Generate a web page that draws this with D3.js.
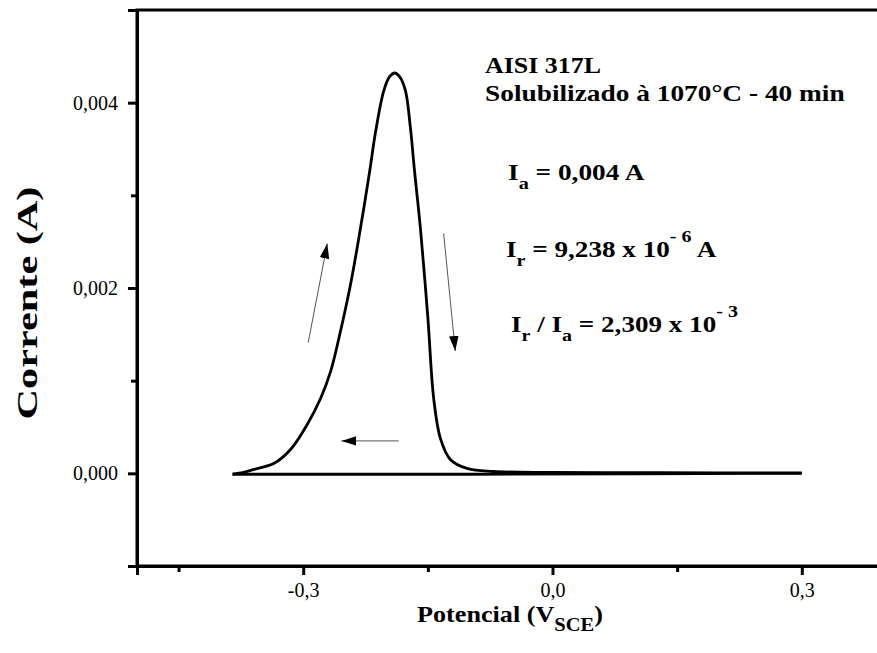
<!DOCTYPE html>
<html>
<head>
<meta charset="utf-8">
<script src="https://cdn.jsdelivr.net/npm/d3@7"></script>
<style>
  body { margin: 0; background: #fff; }
  svg { display: block; }
  text { font-family: "Liberation Serif", "Times New Roman", serif; fill: #000; }
</style>
</head>
<body>
<svg width="877" height="653"></svg>
<script>
var svg = d3.select("svg");

// forward scan (V, A)
var fwdV = [-0.385, -0.372, -0.36, -0.335, -0.315, -0.295, -0.279, -0.267, -0.257, -0.243, -0.231, -0.220, -0.213, -0.203, -0.196, -0.190, -0.184, -0.177, -0.171, -0.166, -0.159, -0.150, -0.143, -0.135, -0.123, -0.102, -0.071, 0.0, 0.1, 0.2, 0.3];
var fwdI = [-0.00001, 0.00001, 0.00004, 0.000108, 0.00026, 0.00053, 0.00081, 0.0011, 0.00146, 0.00204, 0.00265, 0.00326, 0.00368, 0.00413, 0.00428, 0.00432, 0.00428, 0.00413, 0.00373, 0.00326, 0.00265, 0.00168, 0.00081, 0.00038, 0.00015, 0.00005, 0.00002, 0.00001, 0.000008, 0.000006, 0.000005];
// reverse scan
var revV = [0.3, 0.1, -0.1, -0.3, -0.385];
var revI = [0.0, -0.000005, -0.00001, -0.00001, -0.00001];

var xTicks = [-0.3, 0.0, 0.3];
var xMinor = [-0.45, -0.15, 0.15, 0.45];
var yTicks = [0.000, 0.002, 0.004];
var yMinor = [0.001, 0.003];

// arrows [tailV, tailI, tipV, tipI]
var arrows = [
  [-0.294, 0.00141, -0.271, 0.00248],
  [-0.131, 0.00259, -0.117, 0.00132],
  [-0.185, 0.00035, -0.254, 0.00035]
];

var x = d3.scaleLinear().domain([-0.5, 0.5]).range([137, 968]);
var y = d3.scaleLinear().domain([-0.001, 0.005]).range([566, 10]);

var fmt = function (d) { return d3.format(".1f")(d).replace(".", ",").replace("−", "-"); };
var fmtY = function (d) { return d3.format(".3f")(d).replace(".", ","); };

// stretch a text horizontally so it spans w pixels
function fit(sel, x0, yb, w, extra) {
    var bw = sel.node().getBBox().width;
    sel.attr("transform", "translate(" + x0 + "," + yb + ")" + (extra || "") + " scale(" + (w / bw) + ",1)");
}

// frame
svg.append("rect")
    .attr("x", x.range()[0]).attr("y", y.range()[1])
    .attr("width", x.range()[1] - x.range()[0])
    .attr("height", y.range()[0] - y.range()[1])
    .attr("fill", "none").attr("stroke", "#000").attr("stroke-width", 3);

svg.append("g").attr("transform", "translate(0," + y.range()[0] + ")")
    .call(d3.axisBottom(x).tickValues(xTicks).tickFormat(fmt).tickSize(9).tickPadding(8));
svg.append("g").attr("transform", "translate(0," + y.range()[0] + ")")
    .call(d3.axisBottom(x).tickValues(xMinor).tickFormat("").tickSize(6))
    .call(function (g) { g.select(".domain").remove(); });

svg.append("g").attr("transform", "translate(" + x.range()[0] + ",0)")
    .call(d3.axisLeft(y).tickValues(yTicks).tickFormat(fmtY).tickSize(9).tickPadding(10));
svg.append("g").attr("transform", "translate(" + x.range()[0] + ",0)")
    .call(d3.axisLeft(y).tickValues(yMinor).tickFormat("").tickSize(6))
    .call(function (g) { g.select(".domain").remove(); });

svg.selectAll(".domain").attr("stroke-width", 3);
svg.selectAll(".tick line").attr("stroke-width", 3);
svg.selectAll(".tick text").attr("font-size", 20)
    .attr("font-family", "Liberation Serif")
    .style("font-family", "'Liberation Serif', 'Times New Roman', serif");

// curve
var line = d3.line()
    .x(function (d) { return x(d[0]); })
    .y(function (d) { return y(d[1]); })
    .curve(d3.curveCatmullRom.alpha(0.5));

var fwd = fwdV.map(function (v, i) { return [v, fwdI[i]]; });
var rev = revV.map(function (v, i) { return [v, revI[i]]; });

svg.append("path").datum(fwd).attr("d", line)
    .attr("fill", "none").attr("stroke", "#000").attr("stroke-width", 2.8);
svg.append("path").datum(rev).attr("d", d3.line().x(function (d) { return x(d[0]); }).y(function (d) { return y(d[1]); }))
    .attr("fill", "none").attr("stroke", "#000").attr("stroke-width", 2.8);

// arrows
svg.append("defs").append("marker")
    .attr("id", "head").attr("viewBox", "0 0 10 10")
    .attr("refX", 10).attr("refY", 5)
    .attr("markerWidth", 15).attr("markerHeight", 15)
    .attr("markerUnits", "userSpaceOnUse")
    .attr("orient", "auto")
  .append("path").attr("d", "M0,1.8 L10,5 L0,8.2 Z").attr("fill", "#000");

svg.selectAll(".arrow").data(arrows).enter().append("line")
    .attr("class", "arrow")
    .attr("x1", function (d) { return x(d[0]); })
    .attr("y1", function (d) { return y(d[1]); })
    .attr("x2", function (d) { return x(d[2]); })
    .attr("y2", function (d) { return y(d[3]); })
    .attr("stroke", "#555").attr("stroke-width", 1)
    .attr("marker-end", "url(#head)");

// annotations
var ann = svg.append("g").attr("font-weight", "bold").attr("font-size", 23);
fit(ann.append("text").text("AISI 317L"), 485, 73, 116);
fit(ann.append("text").text("Solubilizado à 1070°C - 40 min"), 485, 101, 360);

var t1 = ann.append("text");
t1.append("tspan").text("I");
t1.append("tspan").attr("font-size", 17).attr("dy", 9).text("a");
t1.append("tspan").attr("dy", -9).text(" = 0,004 A");
fit(t1, 508, 180, 137);

var t2 = ann.append("text");
t2.append("tspan").text("I");
t2.append("tspan").attr("font-size", 17).attr("dy", 9).text("r");
t2.append("tspan").attr("dy", -9).text(" = 9,238 x 10");
t2.append("tspan").attr("font-size", 17).attr("dy", -15).text("- 6");
t2.append("tspan").attr("dy", 15).text(" A");
fit(t2, 506, 257, 211);

var t3 = ann.append("text");
t3.append("tspan").text("I");
t3.append("tspan").attr("font-size", 17).attr("dy", 9).text("r");
t3.append("tspan").attr("dy", -9).text(" / I");
t3.append("tspan").attr("font-size", 17).attr("dy", 9).text("a");
t3.append("tspan").attr("dy", -9).text(" = 2,309 x 10");
t3.append("tspan").attr("font-size", 17).attr("dy", -15).text("- 3");
fit(t3, 511, 332, 227);

// axis titles
var xl = svg.append("text").attr("font-weight", "bold").attr("font-size", 23);
xl.append("tspan").text("Potencial (V");
xl.append("tspan").attr("font-size", 18).attr("dy", 9).text("SCE");
xl.append("tspan").attr("dy", -9).text(")");
fit(xl, 417, 622, 186);

var yl = svg.append("text")
    .attr("text-anchor", "middle")
    .attr("font-weight", "bold").attr("font-size", 30)
    .text("Corrente (A)");
fit(yl, 37, 303, 233, " rotate(-90)");
</script>
</body>
</html>
